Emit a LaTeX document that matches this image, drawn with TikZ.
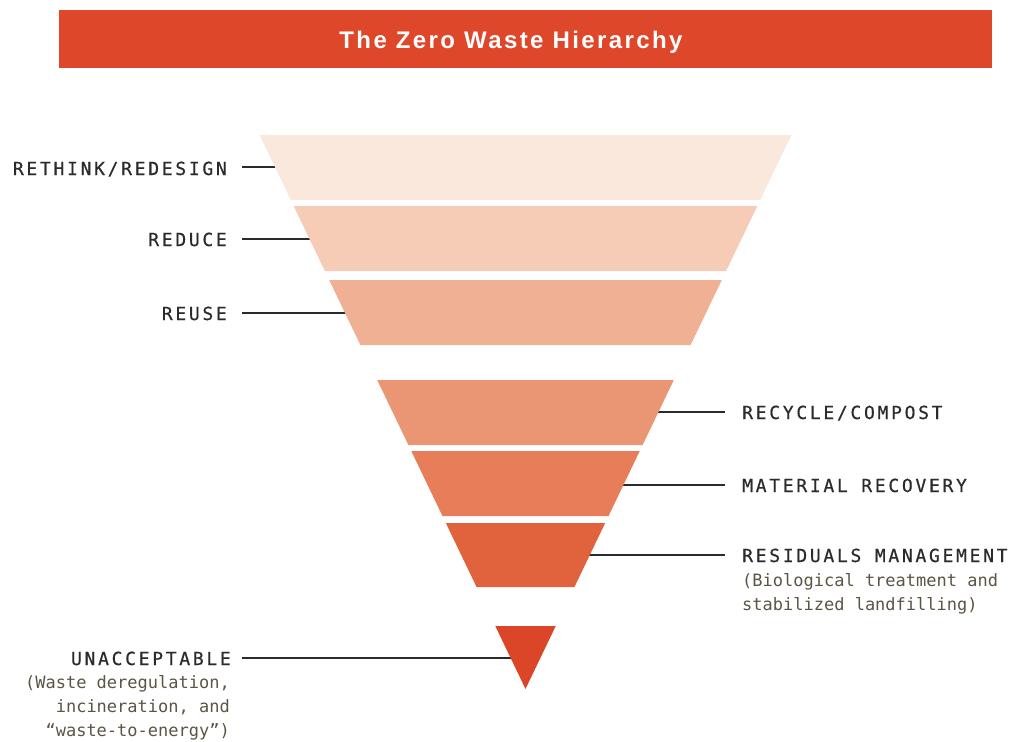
\documentclass[tikz,border=0pt]{standalone}
\usepackage{fontspec}
\setmainfont{DejaVu Sans}
\newfontfamily\labfont[LetterSpace=15,FakeBold=0.6]{DejaVu Sans Mono}
\newfontfamily\subfont{DejaVu Sans Mono}
\newfontfamily\titlefont[LetterSpace=10]{Liberation Sans}
\definecolor{barred}{HTML}{DE4729}
\definecolor{cA}{HTML}{FAE8DC}
\definecolor{cB}{HTML}{F6CCB6}
\definecolor{cC}{HTML}{F0B093}
\definecolor{cD}{HTML}{EA9674}
\definecolor{cE}{HTML}{E77E59}
\definecolor{cF}{HTML}{E0633D}
\definecolor{cG}{HTML}{DC4628}
\definecolor{ink}{HTML}{2B2B2B}
\definecolor{subink}{HTML}{5C5445}
\newcommand\zwband[3]{\fill[#3] ({525.5-0.48*(689-#1)},#1) -- ({525.5+0.48*(689-#1)},#1) -- ({525.5+0.48*(689-#2)},#2) -- ({525.5-0.48*(689-#2)},#2) -- cycle;}
\tikzset{
  lab/.style={inner sep=0pt, text=ink, font=\labfont\fontsize{18}{20}\selectfont},
  sub/.style={inner sep=0pt, text=subink, font=\subfont\fontsize{17}{20}\selectfont},
  lead/.style={draw=ink, line width=2.6pt}
}
\begin{document}
\begin{tikzpicture}[x=1pt,y=-1pt]
\useasboundingbox (0,0) rectangle (1013,742);
% title
\fill[barred] (59,10) rectangle (992,68);
\node[inner sep=0pt, anchor=base, text=white, font=\titlefont\bfseries\fontsize{24}{26}\selectfont] (title) at (511,48.5) {The Zero Waste Hierarchy};
% band-edge coordinates
\coordinate (e1) at ({525.5-0.48*(689-167)+6},167);
\coordinate (e2) at ({525.5-0.48*(689-239)+6},239);
\coordinate (e3) at ({525.5-0.48*(689-313)+6},313);
\coordinate (e4) at ({525.5+0.48*(689-412)-6},412);
\coordinate (e5) at ({525.5+0.48*(689-485)-6},485);
\coordinate (e6) at ({525.5+0.48*(689-555)-6},555);
\coordinate (e7) at ({525.5-0.48*(689-658)+6},658);
\coordinate (s1) at (242,167);
\coordinate (s2) at (242,239);
\coordinate (s3) at (242,313);
\coordinate (s4) at (725,412);
\coordinate (s5) at (725,485);
\coordinate (s6) at (725,555);
\coordinate (s7) at (242,658);
\draw[lead] (s1) -- (e1);
\draw[lead] (s2) -- (e2);
\draw[lead] (s3) -- (e3);
\draw[lead] (s4) -- (e4);
\draw[lead] (s5) -- (e5);
\draw[lead] (s6) -- (e6);
\draw[lead] (s7) -- (e7);
% funnel
\zwband{135}{200}{cA}
\zwband{206}{271}{cB}
\zwband{280}{345}{cC}
\zwband{380}{445}{cD}
\zwband{451}{516}{cE}
\zwband{523}{587}{cF}
\zwband{626}{689}{cG}
% labels
\node[lab, anchor=base east] (l1) at (227,175) {RETHINK/REDESIGN};
\node[lab, anchor=base east] (l2) at (227,246) {REDUCE};
\node[lab, anchor=base east] (l3) at (227,320) {REUSE};
\node[lab, anchor=base west] (l4) at (742,419) {RECYCLE/COMPOST};
\node[lab, anchor=base west] (l5) at (742,492) {MATERIAL RECOVERY};
\node[lab, anchor=base west] (l6) at (742,562) {RESIDUALS MANAGEMENT};
\node[sub, anchor=base west] (l6a) at (742,586) {(Biological treatment and};
\node[sub, anchor=base west] (l6b) at (742,610) {stabilized landfilling)};
\node[lab, anchor=base east] (l7) at (231,665) {UNACCEPTABLE};
\node[sub, anchor=base east] (l7a) at (230,688) {(Waste deregulation,};
\node[sub, anchor=base east] (l7b) at (230,712) {incineration, and};
\node[sub, anchor=base east] (l7c) at (230,736) {“waste-to-energy”)};
\end{tikzpicture}
\end{document}
